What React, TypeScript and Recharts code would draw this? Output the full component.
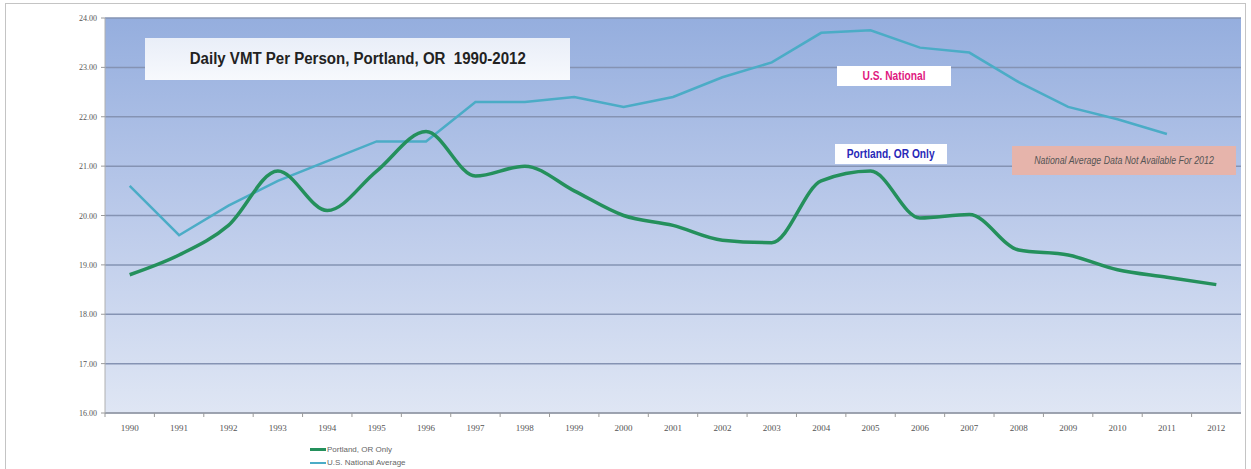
import React from "react";
import { LineChart, Line, XAxis, YAxis, CartesianGrid, Legend } from "recharts";

// Years on the category axis
const years = [
  "1990", "1991", "1992", "1993", "1994", "1995", "1996", "1997", "1998", "1999", "2000", "2001",
  "2002", "2003", "2004", "2005", "2006", "2007", "2008", "2009", "2010", "2011", "2012",
];

// Daily vehicle miles travelled per person, Portland, OR
const portland = [
  18.8, 19.2, 19.8, 20.9, 20.1, 20.9, 21.7, 20.8, 21.0, 20.5, 20.0, 19.8,
  19.5, 19.45, 20.7, 20.9, 19.95, 20.02, 19.3, 19.2, 18.9, 18.75, 18.6,
];

// Daily vehicle miles travelled per person, U.S. national average (no 2012 figure)
const usNational: (number | null)[] = [
  20.6, 19.6, 20.2, 20.7, 21.1, 21.5, 21.5, 22.3, 22.3, 22.4, 22.2, 22.4,
  22.8, 23.1, 23.7, 23.75, 23.4, 23.3, 22.7, 22.2, 21.95, 21.65, null,
];

const yTicks = [16, 17, 18, 19, 20, 21, 22, 23, 24];

const data = years.map((year, i) => ({
  year,
  portland: portland[i],
  national: usNational[i],
}));

const GREEN = "#24905c";
const BLUE = "#4bacc6";

const narrow = "'Liberation Sans Narrow', 'Arial Narrow', 'Liberation Sans', sans-serif";
const tickFont = "'Liberation Serif', 'DejaVu Serif', serif";

const XTick = (props: any) => {
  const { x, y, payload, width } = props;
  const band = (width || 0) / years.length;
  return (
    <g>
      <line x1={x - band / 2} y1={y - 8} x2={x - band / 2} y2={y - 4} stroke="#9a9a9a" strokeWidth={1} />
      <text x={x} y={y + 10} textAnchor="middle" fontSize={9} fill="#555" fontFamily={tickFont}>
        {payload.value}
      </text>
    </g>
  );
};

const YTick = (props: any) => {
  const { x, y, payload } = props;
  return (
    <text x={x - 2} y={y + 3} textAnchor="end" fontSize={8} fill="#555" fontFamily={tickFont}>
      {Number(payload.value).toFixed(2)}
    </text>
  );
};

const LegendBox = () => (
  <div style={{ fontFamily: narrow, fontSize: 8, color: "#666", lineHeight: "13px" }}>
    <div style={{ display: "flex", alignItems: "center" }}>
      <span style={{ display: "inline-block", width: 16, height: 3, background: GREEN, marginRight: 1 }} />
      Portland, OR Only
    </div>
    <div style={{ display: "flex", alignItems: "center" }}>
      <span style={{ display: "inline-block", width: 16, height: 2, background: BLUE, marginRight: 1 }} />
      U.S. National Average
    </div>
  </div>
);

const calloutBase: React.CSSProperties = {
  position: "absolute",
  display: "flex",
  alignItems: "center",
  justifyContent: "center",
  fontFamily: narrow,
  whiteSpace: "pre",
};

export default function App() {
  return (
    <div style={{ position: "absolute", left: 0, top: 0, width: 1251, height: 469, background: "#fff", overflow: "hidden" }}>
      <div
        style={{
          position: "absolute",
          left: 5,
          top: 3,
          width: 1241,
          height: 480,
          border: "1.5px solid #c4c4c4",
          boxSizing: "border-box",
        }}
      />
      <LineChart
        width={1251}
        height={469}
        data={data}
        margin={{ top: 18, right: 10, bottom: 2, left: 45 }}
        style={{ position: "absolute", left: 0, top: 0 }}
      >
        <defs>
          <linearGradient id="plotFill" x1="0" y1="0" x2="0" y2="1">
            <stop offset="0%" stopColor="#95aede" />
            <stop offset="50%" stopColor="#bbcaea" />
            <stop offset="100%" stopColor="#dfe6f4" />
          </linearGradient>
        </defs>
        <CartesianGrid
          vertical={false}
          fill="url(#plotFill)"
          stroke="#8593b3"
          strokeWidth={1.5}
          horizontalValues={yTicks}
        />
        <XAxis
          dataKey="year"
          scale="band"
          interval={0}
          tick={<XTick />}
          tickLine={false}
          axisLine={{ stroke: "#9a9a9a" }}
          height={28}
        />
        <YAxis
          domain={[16, 24]}
          ticks={yTicks}
          width={60}
          tick={<YTick />}
          tickLine={{ stroke: "#9a9a9a" }}
          tickSize={4}
          axisLine={{ stroke: "#b0b0b0" }}
        />
        <Legend
          verticalAlign="bottom"
          align="left"
          content={<LegendBox />}
          wrapperStyle={{ left: 310, bottom: 0, width: 140 }}
        />
        <Line
          type="linear"
          dataKey="national"
          stroke={BLUE}
          strokeWidth={2.5}
          dot={false}
          isAnimationActive={false}
          connectNulls={false}
        />
        <Line
          type="monotone"
          dataKey="portland"
          stroke={GREEN}
          strokeWidth={3.5}
          dot={false}
          isAnimationActive={false}
        />
      </LineChart>

      {/* Chart title panel */}
      <div
        style={{
          ...calloutBase,
          left: 145,
          top: 38,
          width: 425,
          height: 42,
          background: "linear-gradient(#e9eef8, #f7f9fd)",
          fontWeight: "bold",
          fontSize: 16,
          color: "#222",
        }}
      >
        <span style={{ display: "inline-block", transform: "scaleX(0.94)" }}>
          {"Daily VMT Per Person, Portland, OR  1990-2012"}
        </span>
      </div>

      {/* Series call-outs */}
      <div
        style={{
          ...calloutBase,
          left: 837,
          top: 66,
          width: 114,
          height: 20,
          background: "#fff",
          fontWeight: "bold",
          fontSize: 12,
          color: "#e0187f",
        }}
      >
        <span style={{ display: "inline-block", transform: "scaleX(0.85)" }}>U.S. National</span>
      </div>
      <div
        style={{
          ...calloutBase,
          left: 835,
          top: 144,
          width: 112,
          height: 20,
          background: "#fff",
          fontWeight: "bold",
          fontSize: 12,
          color: "#2828b8",
        }}
      >
        <span style={{ display: "inline-block", transform: "scaleX(0.85)" }}>Portland, OR Only</span>
      </div>
      <div
        style={{
          ...calloutBase,
          left: 1012,
          top: 146,
          width: 224,
          height: 29,
          background: "#e6b4ab",
          fontStyle: "italic",
          fontSize: 10,
          color: "#555",
        }}
      >
        <span style={{ display: "inline-block", transform: "scaleX(0.88)" }}>
          National Average Data Not Available For 2012
        </span>
      </div>
    </div>
  );
}
